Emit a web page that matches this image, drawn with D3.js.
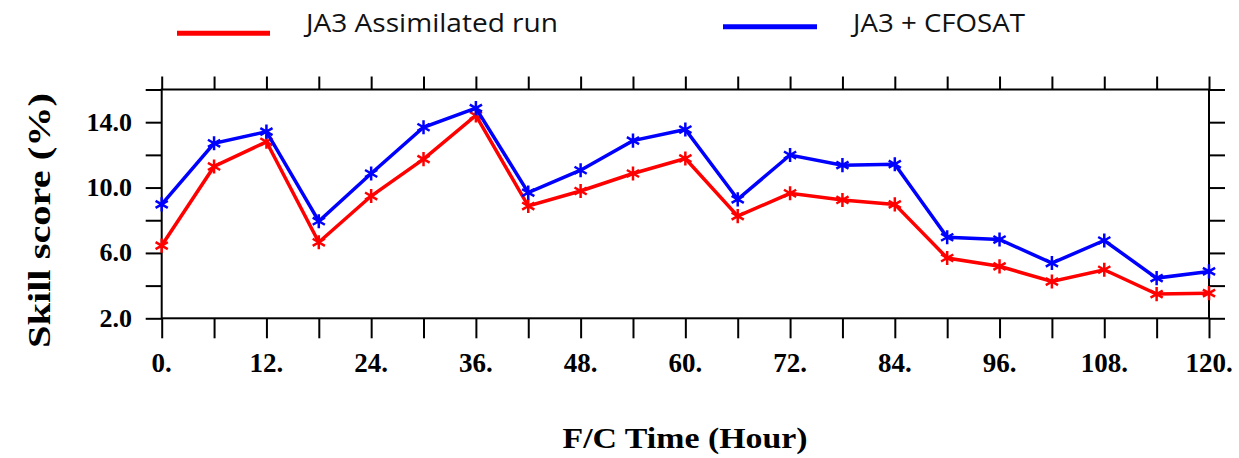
<!DOCTYPE html>
<html>
<head>
<meta charset="utf-8">
<script src="https://cdn.jsdelivr.net/npm/d3@7"></script>
<style>
  body { margin: 0; background: #fff; }
  svg { display: block; }
</style>
</head>
<body>
<div id="chart"></div>
<script>
// forecast hours
const hours = [0, 6, 12, 18, 24, 30, 36, 42, 48, 54, 60, 66, 72, 78, 84, 90, 96, 102, 108, 114, 120];
// skill score (%) per run
const ja3Assimilated = [6.45, 11.29, 12.8, 6.65, 9.48, 11.74, 14.41, 8.87, 9.79, 10.86, 11.78, 8.25, 9.65, 9.24, 8.97, 5.69, 5.18, 4.25, 4.97, 3.48, 3.54];
const ja3Cfosat = [8.97, 12.71, 13.42, 7.94, 10.86, 13.69, 14.86, 9.69, 11.06, 12.87, 13.55, 9.28, 11.99, 11.37, 11.43, 6.96, 6.82, 5.38, 6.76, 4.46, 4.87];

const xTickValues = [0, 12, 24, 36, 48, 60, 72, 84, 96, 108, 120];
const xTickLabels = ['0.', '12.', '24.', '36.', '48.', '60.', '72.', '84.', '96.', '108.', '120.'];
const yTickValues = [2, 6, 10, 14];
const yTickLabels = ['2.0', '6.0', '10.0', '14.0'];
const seriesNames = ['JA3 Assimilated run', 'JA3 + CFOSAT'];

var w = 1239;
var h = 458;
var frame = { left: 161.7, right: 1209, top: 89.5, bottom: 318.3 };

var svg = d3.select('#chart').append('svg')
  .attr('width', w)
  .attr('height', h);

var x = d3.scaleLinear().domain([0, 120]).range([frame.left, frame.right]);
var y = d3.scaleLinear().domain([2, 16]).range([frame.bottom, frame.top]);

var tickFont = "'Liberation Serif', 'Times New Roman', serif";

// outward ticks on all four sides
svg.append('g')
  .attr('transform', 'translate(0,' + frame.bottom + ')')
  .call(d3.axisBottom(x).tickValues(d3.range(0, 121, 6)).tickSize(20).tickFormat(''))
  .call(g => g.select('.domain').remove())
  .call(g => g.selectAll('line').attr('stroke', '#000').attr('stroke-width', 2));

svg.append('g')
  .attr('transform', 'translate(0,' + frame.top + ')')
  .call(d3.axisTop(x).tickValues(d3.range(0, 121, 6)).tickSize(13).tickFormat(''))
  .call(g => g.select('.domain').remove())
  .call(g => g.selectAll('line').attr('stroke', '#000').attr('stroke-width', 2));

svg.append('g')
  .attr('transform', 'translate(' + frame.left + ',0)')
  .call(d3.axisLeft(y).tickValues(d3.range(2, 17, 2)).tickSize(16).tickFormat(''))
  .call(g => g.select('.domain').remove())
  .call(g => g.selectAll('line').attr('stroke', '#000').attr('stroke-width', 2));

svg.append('g')
  .attr('transform', 'translate(' + frame.right + ',0)')
  .call(d3.axisRight(y).tickValues(d3.range(2, 17, 2)).tickSize(16).tickFormat(''))
  .call(g => g.select('.domain').remove())
  .call(g => g.selectAll('line').attr('stroke', '#000').attr('stroke-width', 2));

svg.append('rect')
  .attr('x', frame.left)
  .attr('y', frame.top)
  .attr('width', frame.right - frame.left)
  .attr('height', frame.bottom - frame.top)
  .attr('fill', 'none')
  .attr('stroke', '#000')
  .attr('stroke-width', 2);

// tick labels
svg.selectAll('text.xlab')
  .data(xTickValues)
  .enter()
  .append('text')
  .attr('class', 'xlab')
  .attr('x', d => x(d))
  .attr('y', 372)
  .attr('text-anchor', 'middle')
  .attr('font-family', tickFont)
  .attr('font-weight', 'bold')
  .attr('font-size', 27)
  .text((d, i) => xTickLabels[i]);

svg.selectAll('text.ylab')
  .data(yTickValues)
  .enter()
  .append('text')
  .attr('class', 'ylab')
  .attr('x', 132)
  .attr('y', d => y(d) + 8.5)
  .attr('text-anchor', 'end')
  .attr('font-family', tickFont)
  .attr('font-weight', 'bold')
  .attr('font-size', 26)
  .text((d, i) => yTickLabels[i]);

// axis titles
svg.append('text')
  .attr('transform', 'translate(50,220.5) rotate(-90)')
  .attr('text-anchor', 'middle')
  .attr('font-family', tickFont)
  .attr('font-weight', 'bold')
  .attr('font-size', 31)
  .attr('textLength', 255)
  .attr('lengthAdjust', 'spacingAndGlyphs')
  .text('Skill score (%)');

svg.append('text')
  .attr('x', 685)
  .attr('y', 448)
  .attr('text-anchor', 'middle')
  .attr('font-family', tickFont)
  .attr('font-weight', 'bold')
  .attr('font-size', 29)
  .attr('textLength', 245)
  .attr('lengthAdjust', 'spacingAndGlyphs')
  .text('F/C Time (Hour)');

// series
var series = [
  { name: seriesNames[0], values: ja3Assimilated, color: '#ff0000' },
  { name: seriesNames[1], values: ja3Cfosat, color: '#0000ff' }
];

var line = d3.line()
  .x((d, i) => x(hours[i]))
  .y(d => y(d));

var marker = d3.symbol().type(d3.symbolAsterisk).size(140);

series.forEach(function (s) {
  svg.append('path')
    .datum(s.values)
    .attr('d', line)
    .attr('fill', 'none')
    .attr('stroke', s.color)
    .attr('stroke-width', 3.5);

  svg.selectAll(null)
    .data(s.values)
    .enter()
    .append('path')
    .attr('d', marker)
    .attr('transform', (d, i) => 'translate(' + x(hours[i]) + ',' + y(d) + ')')
    .attr('fill', 'none')
    .attr('stroke', s.color)
    .attr('stroke-width', 2.5);
});

// legend
var legend = [
  { x1: 177, x2: 270, ly: 33.3, tx: 306, tw: 252 },
  { x1: 723, x2: 817, ly: 26.7, tx: 853, tw: 172 }
];
legend.forEach(function (l, i) {
  svg.append('line')
    .attr('x1', l.x1).attr('x2', l.x2)
    .attr('y1', l.ly).attr('y2', l.ly)
    .attr('stroke', series[i].color)
    .attr('stroke-width', 5);
  svg.append('text')
    .attr('x', l.tx)
    .attr('y', 32)
    .attr('font-family', "'Open Sans', 'Noto Sans', sans-serif")
    .attr('font-size', 25)
    .attr('textLength', l.tw)
    .attr('lengthAdjust', 'spacingAndGlyphs')
    .attr('fill', '#111')
    .text(series[i].name);
});
</script>
</body>
</html>
